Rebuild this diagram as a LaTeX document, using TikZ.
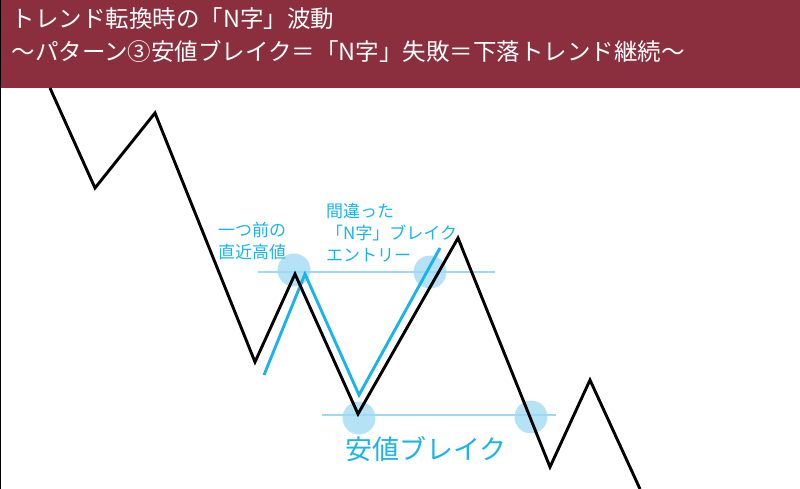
\documentclass[tikz,border=0pt]{standalone}
\usepackage{fontspec}
\newfontfamily\cjk{Noto Sans CJK JP}
\definecolor{titlered}{HTML}{8B2F3F}
\definecolor{skyblue}{HTML}{1AB4EA}
\definecolor{paleblue}{HTML}{9ED8F2}
\begin{document}
\begin{tikzpicture}[x=1pt,y=-1pt,font=\cjk,
	chart/.style={line width=2.9pt,line join=miter},
	spot/.style={circle,fill=paleblue,opacity=0.75,minimum size=33pt,inner sep=0pt},
	level/.style={draw=paleblue,line width=2pt},
	note/.style={text=skyblue,align=left,font=\cjk\fontsize{17}{22}\selectfont}]
	\useasboundingbox (0,0) rectangle (800,489);
	\fill[titlered] (0,0) rectangle (800,88);
	\node[text=white,anchor=north west,align=left,font=\cjk\fontsize{23.5}{33}\selectfont] (title) at (8,4)
		{トレンド転換時の「N字」波動\\〜パターン③安値ブレイク＝「N字」失敗＝下落トレンド継続〜};

	\node[spot] (m1) at (294,270) {};
	\node[spot] (m2) at (430,272) {};
	\node[spot] (m3) at (359,418) {};
	\node[spot] (m4) at (531,417) {};
	\coordinate (h1) at (258,272);
	\coordinate (h2) at (495,272);
	\coordinate (l1) at (322,415);
	\coordinate (l2) at (556,415);
	\draw[level] (h1) -- (h2);
	\draw[level] (l1) -- (l2);

	\draw[chart,skyblue] (264,375) -- (305,274) -- (359,395) -- (440,248);
	\draw[chart] (50,88) -- (95,188) -- (155,113) -- (255,362) -- (295,274) -- (358,414)
		-- (458,238) -- (550,467) -- (590,380) -- (640,489);

	\node[note,anchor=south west,inner sep=0pt] (prev) at (218,260) {一つ前の\\直近高値};
	\node[note,anchor=south west,inner sep=0pt] (wrong) at (326,262) {間違った\\「N字」ブレイク\\エントリー};
	\node[text=skyblue,font=\cjk\fontsize{27}{32}\selectfont] (lowbrk) at (426,449) {安値ブレイク};
	\draw[black,line width=1pt] (0,0) rectangle (800,489);
\end{tikzpicture}
\end{document}
